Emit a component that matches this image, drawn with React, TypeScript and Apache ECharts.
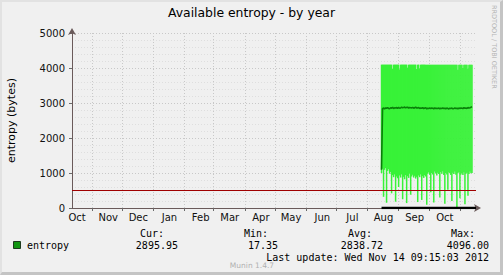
import React, { useEffect, useRef } from "react";
import * as echarts from "echarts";

// ---- data ----
const AXIS_START = "2011-10-12"; // left edge of the time axis
const AXIS_END_DAYS = 402; // width of the time axis in days
const FIRST_DATA_DATE = "2012-08-15";

const monthStarts = [
  "2011-11-01", "2011-12-01", "2012-01-01", "2012-02-01", "2012-03-01", "2012-04-01",
  "2012-05-01", "2012-06-01", "2012-07-01", "2012-08-01", "2012-09-01", "2012-10-01", "2012-11-01",
];
const monthLabelDates = [
  "2011-10-17", "2011-11-17", "2011-12-17", "2012-01-17", "2012-02-17", "2012-03-17", "2012-04-17",
  "2012-05-17", "2012-06-17", "2012-07-17", "2012-08-17", "2012-09-17", "2012-10-17",
];
const monthLabels = ["Oct", "Nov", "Dec", "Jan", "Feb", "Mar", "Apr", "May", "Jun", "Jul", "Aug", "Sep", "Oct"];

const minVals = [
  1000, 1120, 320, 1090, 1140, 150, 1060, 1110, 980, 1030,
  420, 940, 880, 960, 180, 900, 850, 600, 930, 870,
  960, 250, 890, 820, 940, 140, 910, 860, 980, 380,
  900, 950, 870, 920, 840, 890, 170, 930, 880, 960,
  230, 910, 860, 940, 900, 90, 980, 1020, 950, 450,
  1000, 960, 160, 1040, 990, 930, 1010, 970, 300, 1030,
  980, 1050, 940, 120, 1000, 960, 520, 1020, 990, 940,
  200, 1010, 970, 1040, 950, 17.35, 990, 1030, 280, 960,
  1000, 940, 1020, 110, 980, 1010, 350, 970, 1040, 990,
  1000,
];
const maxVals = [
  4096, 4096, 4096, 4096, 4096, 4096, 4096, 4096, 4096, 4096,
  4096, 3980, 4096, 4096, 4096, 4096, 4096, 4096, 3960, 4096,
  4096, 4096, 4096, 4096, 4096, 4096, 4010, 4096, 4096, 4096,
  4096, 4096, 4096, 4096, 4096, 3970, 4096, 4096, 3990, 4096,
  4096, 4096, 4096, 4096, 4096, 4096, 4096, 4096, 4096, 4096,
  4096, 4096, 4096, 4096, 4096, 4096, 4096, 4096, 4096, 4096,
  4096, 4096, 4096, 4096, 4096, 4096, 4096, 4096, 4096, 4096,
  4096, 4096, 4096, 4096, 4096, 4096, 3950, 4096, 4096, 4096,
  4096, 4000, 4096, 4096, 4096, 4096, 3980, 4096, 4096, 4096,
  4096,
];
const avgVals = [
  1090, 2840, 2855, 2830, 2860, 2850, 2870, 2845, 2835, 2865,
  2850, 2880, 2840, 2860, 2855, 2870, 2845, 2875, 2850, 2860,
  2880, 2865, 2870, 2885, 2860, 2875, 2880, 2855, 2870, 2865,
  2860, 2875, 2850, 2865, 2880, 2855, 2860, 2870, 2845, 2860,
  2850, 2865, 2840, 2855, 2860, 2835, 2850, 2845, 2860, 2840,
  2855, 2850, 2835, 2860, 2845, 2850, 2840, 2855, 2835, 2850,
  2845, 2860, 2840, 2850, 2835, 2855, 2845, 2830, 2850, 2840,
  2855, 2835, 2845, 2860, 2840, 2850, 2835, 2855, 2845, 2860,
  2850, 2840, 2865, 2850, 2860, 2845, 2870, 2855, 2865, 2880,
  2896,
];
const warningLevel = 500;
const yTicks = [0, 1000, 2000, 3000, 4000, 5000];

const seriesName = "entropy";
const statHeaders = ["Cur:", "Min:", "Avg:", "Max:"];
const statValues = ["2895.95", "17.35", "2838.72", "4096.00"];
const lastUpdate = "Last update: Wed Nov 14 09:15:03 2012";

// ---- helpers ----
const DAY = 86400000;
const dayOf = (s: string) => (Date.parse(s + "T00:00:00Z") - Date.parse(AXIS_START + "T00:00:00Z")) / DAY;
const firstDay = dayOf(FIRST_DATA_DATE);
const tickDays = monthStarts.map(dayOf);
const labelDays = monthLabelDates.map(dayOf);
const labelByDay: Record<number, string> = {};
labelDays.forEach((d, i) => (labelByDay[Math.round(d)] = monthLabels[i]));

const FONT = "DejaVu Sans";
const MONO = "DejaVu Sans Mono";

export default function App() {
  const ref = useRef<HTMLDivElement>(null);
  useEffect(() => {
    if (!ref.current) return;
    const chart = echarts.init(ref.current, null, { renderer: "svg" });
    const days = minVals.map((_, i) => firstDay + i);
    const headerRight = [164, 268, 372, 475];
    const valueRight = [178, 278, 383, 489];
    const monoText = (text: string, x: number, y: number, align: string) => ({
      type: "text",
      x,
      y,
      style: {
        text,
        fill: "#000",
        font: `10px "${MONO}"`,
        align,
        verticalAlign: "middle",
        textAlign: align,
        textVerticalAlign: "middle",
      },
    });
    chart.setOption({
      animation: false,
      backgroundColor: "#f0f0f0",
      title: {
        text: "Available entropy - by year",
        left: "center",
        top: 6,
        padding: 0,
        textStyle: { fontFamily: FONT, fontSize: 12.4, fontWeight: "normal", color: "#000" },
      },
      grid: { left: 72, top: 33, width: 404, height: 175, containLabel: false, outerBoundsMode: "none" },
      xAxis: {
        type: "value",
        min: 0,
        max: AXIS_END_DAYS,
        axisLine: {
          show: true,
          symbol: ["none", "arrow"],
          symbolSize: [6, 7],
          symbolOffset: [0, 5],
          lineStyle: { color: "#6a5a5a", width: 1 },
        },
        axisTick: { show: true, customValues: tickDays, length: 3, lineStyle: { color: "#6a6a6a" } },
        axisLabel: {
          customValues: labelDays,
          formatter: (v: number) => labelByDay[Math.round(v)] || "",
          fontFamily: FONT,
          fontSize: 10,
          color: "#111",
          margin: 4,
          hideOverlap: false,
          showMinLabel: true,
          showMaxLabel: true,
        },
        splitLine: { show: true, lineStyle: { color: "#c8c8c8", type: [1, 2], width: 1 } },
      },
      yAxis: {
        type: "value",
        min: 0,
        max: 5000,
        interval: 1000,
        name: "entropy (bytes)",
        nameLocation: "middle",
        nameGap: 55,
        nameTextStyle: { fontFamily: FONT, fontSize: 11, color: "#000" },
        axisLine: {
          show: true,
          symbol: ["none", "arrow"],
          symbolSize: [6, 7],
          symbolOffset: [0, 5],
          lineStyle: { color: "#6a5a5a", width: 1 },
        },
        axisTick: { show: true, length: 3, lineStyle: { color: "#6a6a6a" } },
        axisLabel: {
          fontFamily: FONT,
          fontSize: 10,
          color: "#111",
          margin: 7,
          customValues: yTicks,
          formatter: (v: number) => String(v),
        },
        splitLine: { show: true, lineStyle: { color: "#c8c8c8", type: [1, 2], width: 1 } },
        minorTick: { show: false, splitNumber: 5 },
        minorSplitLine: { show: true, lineStyle: { color: "#dedede", type: [1, 2], width: 1 } },
      },
      series: [
        {
          type: "custom",
          silent: true,
          encode: { x: 0, y: [1, 2] },
          data: minVals.map((v, i) => [days[i], v, maxVals[i]]),
          renderItem: (_params: any, api: any) => {
            const lo = api.coord([api.value(0), api.value(1)]);
            const hi = api.coord([api.value(0), api.value(2)]);
            return {
              type: "rect",
              shape: { x: lo[0] - 0.75, y: hi[1], width: 1.5, height: lo[1] - hi[1] },
              style: { fill: "#38f238" },
            };
          },
          z: 2,
        },
        {
          type: "line",
          name: seriesName,
          symbol: "none",
          lineStyle: { color: "#0a7f0a", width: 1.6 },
          data: avgVals.map((v, i) => [days[i], v]),
          z: 5,
        },
        {
          type: "line",
          symbol: "none",
          lineStyle: { color: "#000", width: 2.5 },
          data: [
            [firstDay, 0],
            [AXIS_END_DAYS, 0],
          ],
          z: 6,
          markLine: {
            silent: true,
            symbol: "none",
            label: { show: false },
            lineStyle: { color: "#a00000", width: 1, type: "solid" },
            data: [{ yAxis: warningLevel }],
          },
        },
      ],
      graphic: [
        {
          type: "text",
          x: 494,
          y: 5,
          rotation: -Math.PI / 2,
          style: {
            text: "RRDTOOL / TOBI OETIKER",
            fill: "#b4b4b4",
            font: `6.5px "${FONT}"`,
            align: "left",
            verticalAlign: "middle",
            textAlign: "left",
            textVerticalAlign: "middle",
          },
        },
        {
          type: "rect",
          shape: { x: 13.5, y: 241.5, width: 7, height: 7 },
          style: { fill: "#129612", stroke: "#1e3a1e", lineWidth: 1 },
        },
        monoText(seriesName, 27, 245, "left"),
        ...statHeaders.map((t, i) => monoText(t, headerRight[i], 233, "right")),
        ...statValues.map((t, i) => monoText(t, valueRight[i], 245, "right")),
        monoText(lastUpdate, 489, 257, "right"),
        {
          type: "text",
          x: 252,
          y: 265,
          style: {
            text: "Munin 1.4.7",
            fill: "#b0b0b0",
            font: `7.5px "${FONT}"`,
            align: "center",
            verticalAlign: "middle",
            textAlign: "center",
            textVerticalAlign: "middle",
          },
        },
      ],
    });
    return () => chart.dispose();
  }, []);
  return (
    <div style={{ position: "fixed", left: 0, top: 0, width: 503, height: 275 }}>
      <div ref={ref} style={{ width: 503, height: 275 }} />
      <div
        style={{
          position: "absolute",
          left: 0,
          top: 0,
          width: 503,
          height: 275,
          boxSizing: "border-box",
          borderStyle: "solid",
          borderWidth: "2px 3px 3px 2px",
          borderColor: "#e2e2e2 #c4c4c4 #c4c4c4 #e2e2e2",
          pointerEvents: "none",
        }}
      />
    </div>
  );
}
